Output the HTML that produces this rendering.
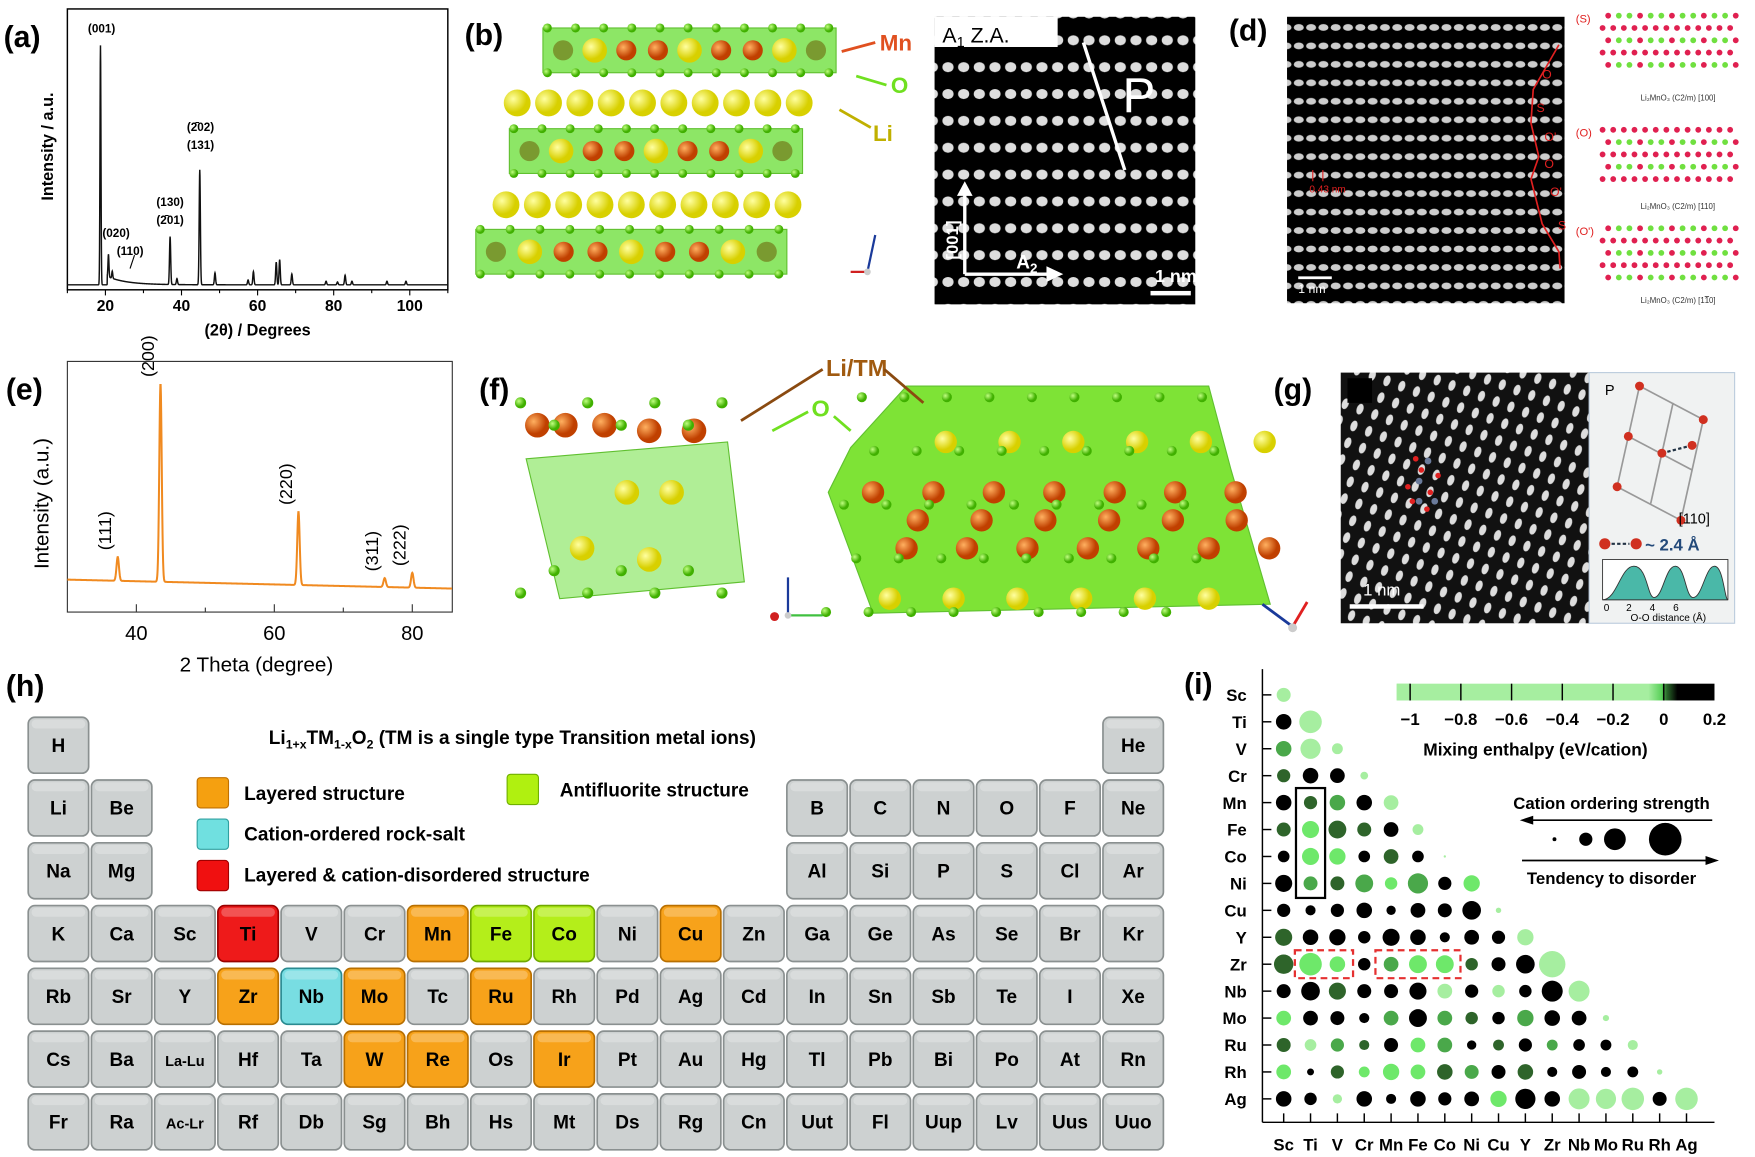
<!DOCTYPE html>
<html><head><meta charset="utf-8"><style>
html,body{margin:0;padding:0;background:#fff}
svg{display:block}
text{font-family:"Liberation Sans",sans-serif}
.b{font-weight:bold}
.pt{font-family:"Liberation Sans Narrow","Liberation Sans",sans-serif;font-weight:bold;font-stretch:condensed}
</style></head><body>
<svg id="fig" width="1755" height="1157" viewBox="0 0 1568 1034" xmlns="http://www.w3.org/2000/svg">
<defs>
<pattern id="temc" width="14" height="24" patternUnits="userSpaceOnUse"><rect width="14" height="24" fill="#000"/><ellipse cx="7" cy="12" rx="5" ry="4.5" fill="#ddd"/></pattern>
<pattern id="temd" width="11" height="16.5" patternUnits="userSpaceOnUse"><rect width="11" height="16.5" fill="#000"/><ellipse cx="5.5" cy="8" rx="4.5" ry="3" fill="#ccc"/></pattern>
<pattern id="temg" width="14" height="16" patternUnits="userSpaceOnUse" patternTransform="rotate(20)"><rect width="14" height="16" fill="#111"/><ellipse cx="7" cy="8" rx="3" ry="5" fill="#ddd"/></pattern>
<radialGradient id="liB" cx="35%" cy="35%"><stop offset="0" stop-color="#ffffa0"/><stop offset="1" stop-color="#d8d000"/></radialGradient>
<radialGradient id="mnB" cx="35%" cy="35%"><stop offset="0" stop-color="#ffb060"/><stop offset="1" stop-color="#c04000"/></radialGradient>
<radialGradient id="oB" cx="35%" cy="35%"><stop offset="0" stop-color="#c0ff80"/><stop offset="1" stop-color="#40b000"/></radialGradient>
</defs>

<g class="b" font-size="27">
<text x="3" y="42">(a)</text>
<text x="415" y="40">(b)</text>
<text x="843" y="40">(c)</text>
<text x="1098" y="36">(d)</text>
<text x="5" y="357">(e)</text>
<text x="428" y="357">(f)</text>
<text x="1138" y="357">(g)</text>
<text x="5" y="622">(h)</text>
<text x="1058" y="620">(i)</text>
</g>

<g id="pa"></g>
<g id="pe"></g>

<g id="pb"></g>
<g class="b" font-size="20">
<text x="786" y="45" fill="#e05020">Mn</text><line x1="782" y1="38" x2="752" y2="46" stroke="#e05020" stroke-width="2.5"/>
<text x="796" y="83" fill="#70e020">O</text><line x1="792" y1="76" x2="765" y2="68" stroke="#70e020" stroke-width="2.5"/>
<text x="780" y="126" fill="#c0b000">Li</text><line x1="778" y1="114" x2="750" y2="98" stroke="#c0b000" stroke-width="2.5"/>
<line x1="775" y1="243" x2="782" y2="210" stroke="#1a3a9a" stroke-width="2"/><line x1="775" y1="243" x2="760" y2="243" stroke="#d02020" stroke-width="2"/><circle cx="775" cy="243" r="3" fill="#ccc"/>
</g>

<g>
<rect x="835" y="15" width="233" height="257" fill="url(#temc)"/>
<rect x="835" y="15" width="110" height="27" fill="#fff"/>
<text x="842" y="38" font-size="19">A<tspan font-size="13" dy="4">1</tspan><tspan dy="-4"> Z.A.</tspan></text>
<line x1="968" y1="38" x2="1005" y2="152" stroke="#fff" stroke-width="3"/>
<text x="1003" y="100" font-size="44" fill="#fff">P</text>
<line x1="862" y1="245" x2="862" y2="172" stroke="#fff" stroke-width="3"/><polygon points="855,175 869,175 862,162" fill="#fff"/>
<line x1="862" y1="245" x2="938" y2="245" stroke="#fff" stroke-width="3"/><polygon points="935,238 935,252 950,245" fill="#fff"/>
<text x="856" y="232" font-size="15" fill="#fff" class="b" transform="rotate(-90 856 232)">[001]</text>
<text x="908" y="240" font-size="17" fill="#fff" class="b">A<tspan font-size="12" dy="4">2</tspan></text>
<text x="1032" y="252" font-size="16" fill="#fff" class="b">1 nm</text><rect x="1028" y="260" width="36" height="4" fill="#fff"/>
</g>

<g>
<rect x="1150" y="15" width="248" height="256" fill="url(#temd)"/>
<polyline points="1393,40 1370,80 1368,110 1375,140 1368,160 1378,200 1393,225 1394,240" fill="none" stroke="#e02020" stroke-width="1.5"/>
<g fill="#e02020" font-size="11"><text x="1378" y="70">O</text><text x="1373" y="100">S</text><text x="1380" y="126">O'</text><text x="1380" y="150">O</text><text x="1385" y="175">O'</text><text x="1392" y="205">S</text><text x="1170" y="172" font-size="9">0.43 nm</text></g>
<line x1="1173" y1="152" x2="1173" y2="162" stroke="#e02020"/><line x1="1182" y1="152" x2="1182" y2="162" stroke="#e02020"/>
<rect x="1160" y="247" width="30" height="2.5" fill="#fff"/><text x="1160" y="262" font-size="11" fill="#fff">1 nm</text>
</g>
<g id="pd2">
<g fill="#e02020" font-size="10"><text x="1408" y="20">(S)</text><text x="1408" y="122">(O)</text><text x="1408" y="210">(O')</text></g>
<g font-size="7" fill="#333"><text x="1466" y="90">Li₂MnO₃ (C2/m) [100]</text><text x="1466" y="187">Li₂MnO₃ (C2/m) [110]</text><text x="1466" y="271">Li₂MnO₃ (C2/m) [1<tspan text-decoration="overline">1</tspan>0]</text></g>
</g>

<g id="pf"></g>
<g>
<text x="738" y="336" font-size="21" class="b" fill="#a05a10">Li/TM</text>
<line x1="735" y1="330" x2="662" y2="376" stroke="#8a4a10" stroke-width="2.5"/><line x1="790" y1="330" x2="825" y2="360" stroke="#8a4a10" stroke-width="2.5"/>
<text x="725" y="372" font-size="21" class="b" fill="#70e020">O</text>
<line x1="722" y1="368" x2="690" y2="385" stroke="#70e020" stroke-width="2.5"/><line x1="745" y1="372" x2="760" y2="385" stroke="#70e020" stroke-width="2.5"/>
<line x1="704" y1="550" x2="704" y2="516" stroke="#1a3a9a" stroke-width="2"/><line x1="704" y1="550" x2="735" y2="550" stroke="#40c040" stroke-width="2"/><circle cx="704" cy="550" r="3" fill="#ccc"/><circle cx="692" cy="551" r="4" fill="#d02020"/>
<line x1="1155" y1="560" x2="1128" y2="540" stroke="#1a3a9a" stroke-width="2.5"/><line x1="1155" y1="560" x2="1168" y2="538" stroke="#e02020" stroke-width="2.5"/><circle cx="1155" cy="561" r="4" fill="#ccc"/>
</g>

<g>
<rect x="1198" y="333" width="222" height="224" fill="url(#temg)"/>
<rect x="1204" y="338" width="22" height="22" fill="#000"/>
<g fill="#e02020"><circle cx="1258" cy="435" r="2.5"/><circle cx="1262" cy="448" r="2.5"/><circle cx="1270" cy="420" r="2.5"/><circle cx="1265" cy="410" r="2.5"/><circle cx="1278" cy="440" r="2.5"/><circle cx="1275" cy="455" r="2.5"/><circle cx="1285" cy="425" r="2.5"/></g>
<g fill="#6a7a9a"><circle cx="1268" cy="430" r="3"/><circle cx="1276" cy="412" r="3"/><circle cx="1282" cy="448" r="3"/><circle cx="1268" cy="448" r="3"/></g>
<rect x="1206" y="540" width="66" height="4" fill="#fff"/><text x="1218" y="532" font-size="15" fill="#fff">1 nm</text>
<rect x="1420" y="333" width="130" height="224" fill="#f0f2f2" stroke="#bcd" />
<text x="1434" y="353" font-size="13">P</text>
<g stroke="#999" stroke-width="1.5" fill="none"><polyline points="1465,345 1445,435 "/><polyline points="1495,360 1475,450"/><polyline points="1522,375 1502,465"/><line x1="1465" y1="345" x2="1522" y2="375"/><line x1="1455" y1="390" x2="1512" y2="420"/><line x1="1445" y1="435" x2="1502" y2="465"/></g>
<line x1="1485" y1="405" x2="1512" y2="398" stroke="#234" stroke-width="2" stroke-dasharray="3,2"/>
<g fill="#d03020"><circle cx="1465" cy="345" r="4"/><circle cx="1455" cy="390" r="4"/><circle cx="1445" cy="435" r="4"/><circle cx="1485" cy="405" r="4"/><circle cx="1512" cy="398" r="4"/><circle cx="1502" cy="465" r="4"/><circle cx="1522" cy="375" r="4"/></g>
<text x="1500" y="468" font-size="13">[110]</text>
<circle cx="1434" cy="486" r="5" fill="#d03020"/><circle cx="1462" cy="486" r="5" fill="#d03020"/><line x1="1440" y1="486" x2="1456" y2="486" stroke="#234" stroke-width="2" stroke-dasharray="3,2"/>
<text x="1470" y="492" font-size="15" class="b" fill="#234a7a">~ 2.4 Å</text>
<rect x="1432" y="500" width="112" height="36" fill="#fff" stroke="#333" stroke-width="0.8"/>
<path d="M1432,536 C1445,536 1448,506 1460,506 C1472,506 1472,534 1478,534 C1486,534 1488,506 1497,506 C1506,506 1506,534 1513,534 C1521,534 1524,506 1532,506 C1540,506 1541,536 1544,536 Z" fill="#4ab8a8" stroke="#333" stroke-width="0.8"/>
<g font-size="9"><text x="1433" y="546">0</text><text x="1453" y="546">2</text><text x="1474" y="546">4</text><text x="1495" y="546">6</text><text x="1457" y="555">O-O distance (Å)</text></g>
</g>

<g id="ph"></g>
<g class="pt">
<text x="240" y="665" font-size="17">Li<tspan font-size="11" dy="4">1+x</tspan><tspan dy="-4">TM</tspan><tspan font-size="11" dy="4">1-x</tspan><tspan dy="-4">O</tspan><tspan font-size="11" dy="4">2</tspan><tspan dy="-4"> (TM is a single type Transition metal ions)</tspan></text>
<rect x="176" y="695" width="28" height="27" rx="3" fill="#f5a010" stroke="#c07000"/><text x="218" y="715" font-size="17">Layered structure</text>
<rect x="176" y="732" width="28" height="27" rx="3" fill="#70e0e0" stroke="#30a0a0"/><text x="218" y="751" font-size="17">Cation-ordered rock-salt</text>
<rect x="176" y="769" width="28" height="27" rx="3" fill="#f01010" stroke="#a00000"/><text x="218" y="788" font-size="17">Layered &amp; cation-disordered structure</text>
<rect x="453" y="692" width="28" height="27" rx="3" fill="#b0f010" stroke="#70b000"/><text x="500" y="712" font-size="17">Antifluorite structure</text>
</g>

<g id="pi"></g>
</svg>
<script>
// ---------- (a) XRD data ----------
const aPeakPos = [18.7, 20.8, 21.8, 37.0, 38.8, 44.8, 48.8, 57.5, 58.9, 64.9, 65.8, 69.0, 78.0, 81.0, 83.0, 84.8, 94.0, 99.0];
const aPeakInt = [100, 9.5, 3, 20, 2.5, 48, 5, 2, 5.5, 9.5, 10.5, 4.5, 1.5, 1.2, 4, 1.5, 1.5, 1.5];
const aTicks = [20, 40, 60, 80, 100];
const aLabels = [["(001)",19,29],["(020)",22.8,212],["(110)",26.5,228],["(130)",37,184],["(2̄01)",37,200],["(2̄02)",45,117],["(131)",45,133]];
// ---------- (e) XRD data ----------
const ePeakPos = [37.3, 43.5, 63.5, 76.0, 80.0];
const ePeakInt = [12, 100, 37, 4.5, 7.5];
const eTicks = [40, 60, 80];
const eLabels = ["(111)", "(200)", "(220)", "(311)", "(222)"];
// ---------- (i) dot matrix ----------
const iElems = ["Sc","Ti","V","Cr","Mn","Fe","Co","Ni","Cu","Y","Zr","Nb","Mo","Ru","Rh","Ag"];
const iEnth = [
"L","KL","MLL","DKKL","KDMKL","DBDDKL","KBBKDKL","KMDMBMKB","KKKKKKKKL","DKKKKKKKKL",
"DBBKMBBDKKL","KKDKKKLKLKKL","BKKKMKMDKMKKL","DLMDKBMKDKMKKL","BKDBBBDMKDKKKKL","KKLKKKKKBKKLLLKL"];
const iStrength = [
[18],[20,29],[20,26,14],[17,20,19,10],[20,17,20,20,19],[18,22,23,18,19,14],[15,22,21,15,19,15,3],
[22,18,18,23,16,26,17,21],[17,13,17,20,12,19,18,24,7],[22,20,21,16,22,20,13,19,17,21],
[25,29,20,16,19,23,23,16,18,24,34],[18,24,22,18,18,22,19,17,16,16,27,27],
[19,19,18,13,19,23,19,16,16,21,20,19,8],[18,15,17,13,18,19,19,12,14,17,14,15,14,13],
[19,9,17,14,21,19,20,18,18,20,13,18,13,14,7],[20,16,12,20,13,20,17,19,21,26,20,27,26,29,18,29]];
const iCodeVal = {L:-0.3,B:0.01,M:0.02,D:0.04,K:0.12};
const cbTicks = [-1,-0.8,-0.6,-0.4,-0.2,0,0.2];
const cbTickLabels = ["−1","−0.8","−0.6","−0.4","−0.2","0","0.2"];
const legendStrength = [5,17,28,42];
// ---------- (h) periodic table ----------
const ptRows = [
["H","","","","","","","","","","","","","","","","","He"],
["Li","Be","","","","","","","","","","","B","C","N","O","F","Ne"],
["Na","Mg","","","","","","","","","","","Al","Si","P","S","Cl","Ar"],
["K","Ca","Sc","Ti","V","Cr","Mn","Fe","Co","Ni","Cu","Zn","Ga","Ge","As","Se","Br","Kr"],
["Rb","Sr","Y","Zr","Nb","Mo","Tc","Ru","Rh","Pd","Ag","Cd","In","Sn","Sb","Te","I","Xe"],
["Cs","Ba","La-Lu","Hf","Ta","W","Re","Os","Ir","Pt","Au","Hg","Tl","Pb","Bi","Po","At","Rn"],
["Fr","Ra","Ac-Lr","Rf","Db","Sg","Bh","Hs","Mt","Ds","Rg","Cn","Uut","Fl","Uup","Lv","Uus","Uuo"]];
const ptLayered = ["Mn","Cu","Zr","Mo","Ru","W","Re","Ir"];
const ptOrdered = ["Nb"];
const ptDisordered = ["Ti"];
const ptAntifluorite = ["Fe","Co"];

const NS="http://www.w3.org/2000/svg";
function mk(tag, attrs, parent){const e=document.createElementNS(NS,tag);for(const k in attrs)e.setAttribute(k,attrs[k]);parent.appendChild(e);return e;}

(function(){
 const g=document.getElementById('pa');
 const X0=60,X1=400,Y0=8,Y1=259, xmin=10,xmax=110;
 const sx=v=>X0+(v-xmin)/(xmax-xmin)*(X1-X0);
 const base=255.6, k=2.14;
 const sy=v=>base-v*k;
 let r=mk('rect',{x:X0,y:Y0,width:X1-X0,height:Y1-Y0,fill:'none',stroke:'#000','stroke-width':1.3},g);
 
 
 let d='';
 for(let x=xmin;x<=xmax;x+=0.05){
  let I=0.5;
  if(x>20.5) I+=3.5*Math.exp(-(x-20.5)/5);
  for(let i=0;i<aPeakPos.length;i++){const w=aPeakPos[i]<25?0.18:0.22;I+=aPeakInt[i]*Math.exp(-Math.pow((x-aPeakPos[i])/w,2));}
  d+=(d?'L':'M')+sx(x).toFixed(2)+','+sy(I).toFixed(2);
 }
 const p=mk('path',{d:d,fill:'none',stroke:'#111','stroke-width':1.3},g);
 
 
 for(let v=10;v<=110;v+=10){mk('line',{x1:sx(v),x2:sx(v),y1:Y1,y2:Y1+(v%20==0?5:3),stroke:'#000'},g);}
 aTicks.forEach(v=>{const t=mk('text',{x:sx(v),y:Y1+19,'text-anchor':'middle','font-size':14,'class':'b'},g);t.textContent=v;
  
  });
 let t=mk('text',{x:230,y:300,'text-anchor':'middle','font-size':14.5,'class':'b'},g);t.textContent='(2θ) / Degrees';
 
 
 t=mk('text',{x:0,y:0,'text-anchor':'middle','font-size':14.5,'class':'b',transform:'translate(47,131) rotate(-90)'},g);t.textContent='Intensity / a.u.';
 
 
 aLabels.forEach(l=>{const tt=mk('text',{x:sx(l[1]),y:l[2],'text-anchor':'middle','font-size':10.5,'class':'b'},g);tt.textContent=l[0];
  
  });
 mk('line',{x1:120,y1:228,x2:116,y2:240,stroke:'#000'},g);
})();

(function(){
 const g=document.getElementById('pe');
 const X0=60,X1=404,Y0=323,Y1=547,xmin=30,xmax=85.8;
 const sx=v=>X0+(v-xmin)/(xmax-xmin)*(X1-X0);
 const baseAt=x=>518+(x-xmin)/(xmax-xmin)*8;
 const k=1.77;
 let r=mk('rect',{x:X0,y:Y0,width:X1-X0,height:Y1-Y0,fill:'none',stroke:'#333','stroke-width':1},g);
 
 
 let d='';
 for(let x=xmin;x<=xmax;x+=0.04){
  let I=0;
  for(let i=0;i<ePeakPos.length;i++){I+=ePeakInt[i]*Math.exp(-Math.pow((x-ePeakPos[i])/0.25,2));}
  d+=(d?'L':'M')+sx(x).toFixed(2)+','+(baseAt(x)-I*k).toFixed(2);
 }
 const p=mk('path',{d:d,fill:'none',stroke:'#f08a20','stroke-width':1.8},g);
 
 
 for(let v=40;v<=80;v+=10){mk('line',{x1:sx(v),x2:sx(v),y1:Y1,y2:Y1-(v%20==0?7:4),stroke:'#333'},g);}
 eTicks.forEach(v=>{const t=mk('text',{x:sx(v),y:572,'text-anchor':'middle','font-size':18},g);t.textContent=v;
  
  });
 let t=mk('text',{x:229,y:600,'text-anchor':'middle','font-size':18.5},g);t.textContent='2 Theta (degree)';
 
 
 t=mk('text',{x:0,y:0,'text-anchor':'middle','font-size':18.5,transform:'translate(43,450) rotate(-90)'},g);t.textContent='Intensity (a.u.)';
 
 
 ePeakPos.forEach((c,i)=>{const top=baseAt(c)-ePeakInt[i]*k;const tt=mk('text',{x:0,y:0,'text-anchor':'start','font-size':16,transform:`translate(${sx(c)-6},${top-6}) rotate(-90)`},g);tt.textContent=eLabels[i];
  
  });
})();

(function(){
 const g=document.getElementById('pb');
 function slab(x,y,w){
  mk('rect',{x:x,y:y,width:w,height:40,fill:'#70e040','fill-opacity':0.8,stroke:'#60c030'},g);
  const n=10,step=w/(n);
  for(let i=0;i<=n;i++){mk('circle',{cx:x+i*step*0.96+4,cy:y,r:4,fill:'url(#oB)'},g);mk('circle',{cx:x+i*step*0.96+4,cy:y+40,r:4,fill:'url(#oB)'},g);}
  const pat=['g','L','M','M','L','M','M','L','g'];
  pat.forEach((c,i)=>{const cx=x+18+i*(w-36)/8;mk('circle',{cx:cx,cy:y+20,r:c=='M'?9:(c=='L'?11:9),fill:c=='M'?'url(#mnB)':(c=='L'?'url(#liB)':'#7a9a30')},g);});
 }
 function lirow(x,y,n){for(let i=0;i<n;i++)mk('circle',{cx:x+i*28,cy:y,r:12,fill:'url(#liB)'},g);}
 slab(485,25,262);lirow(462,92,10);slab(455,115,262);lirow(452,183,10);slab(425,205,278);
})();
(function(){
 const g=document.getElementById('pd2');
 const rows=[14,25,36,47,58, 116,127,138,149,160, 204,215,226,237,248];
 rows.forEach((y,ri)=>{const alt=ri%2==0;for(let i=0;i<13;i++){const c=alt?(i%3==0?'#e02050':'#70e040'):'#e02050';mk('circle',{cx:1432+(ri%2?0:5)+i*9.5,cy:y,r:2.6,fill:c},g);}});
})();
(function(){
 const g=document.getElementById('pf');
 mk('polygon',{points:'470,410 650,395 665,520 500,535',fill:'#70e040','fill-opacity':0.55,stroke:'#60c030'},g);
 mk('polygon',{points:'810,345 1080,345 1100,420 1135,540 780,548 740,440 760,400',fill:'#70e020','fill-opacity':0.9,stroke:'#60c030'},g);
 for(let r=0;r<3;r++)for(let c=0;c<6;c++){mk('circle',{cx:845+c*57-r*25,cy:395+r*70,r:10,fill:r==1?'url(#mnB)':'url(#liB)'},g);}
 for(let r=0;r<2;r++)for(let c=0;c<7;c++){mk('circle',{cx:780+c*54-r*10+(r?40:0),cy:440+r*50,r:10,fill:'url(#mnB)'},g);}
 for(let r=0;r<5;r++)for(let c=0;c<9;c++){mk('circle',{cx:770+c*38-r*8+ (r%2)*19,cy:355+r*48,r:4.5,fill:'url(#oB)'},g);}
 [[480,380],[505,380],[540,380],[580,385],[620,385],[560,440],[600,440],[520,490],[580,500]].forEach(p=>mk('circle',{cx:p[0],cy:p[1],r:11,fill:p[1]<400?'url(#mnB)':'url(#liB)'},g));
 for(let i=0;i<14;i++){mk('circle',{cx:465+(i%7)*30,cy:360+Math.floor(i/7)*150+ (i%2)*20,r:5,fill:'url(#oB)'},g);}
})();

(function(){
 const g=document.getElementById('ph');
 ptRows.forEach((row,ri)=>row.forEach((el,ci)=>{
  if(!el)return;
  const cx=52+ci*56.5, cy=666+ri*56.1;
  let fill='#cdd1d1', stroke='#8a9090';
  if(ptLayered.includes(el)){fill='#f7a21a';stroke='#b86f00';}
  else if(ptOrdered.includes(el)){fill='#78dde2';stroke='#2a8a90';}
  else if(ptDisordered.includes(el)){fill='#ee1a1a';stroke='#9a0000';}
  else if(ptAntifluorite.includes(el)){fill='#b4ee1a';stroke='#70a800';}
  const r=mk('rect',{x:cx-27,y:cy-25,width:54,height:50,rx:6,fill:fill,stroke:stroke,'stroke-width':1.5},g);
  
  
  mk('rect',{x:cx-24,y:cy-23,width:48,height:8,rx:4,fill:'#fff','fill-opacity':0.25},g);
  const t=mk('text',{x:cx,y:cy+6,'text-anchor':'middle','font-size':el.length>3?13:17,'class':'pt'},g);
  t.textContent=el;
  
  
 }));
})();

(function(){
 const g=document.getElementById('pi');
 const rowY=i=>621+i*24.07, colX=j=>1147+j*24;
 const AX=1128, AY=1003;
 function color(v){
  if(v<=0) return '#a6eea0';
  const stops=[[0,[166,238,160]],[0.01,[110,232,106]],[0.02,[74,168,74]],[0.04,[46,100,42]],[0.08,[0,0,0]]];
  if(v>=0.08) return '#000';
  for(let i=0;i<stops.length-1;i++){if(v<=stops[i+1][0]){const t=(v-stops[i][0])/(stops[i+1][0]-stops[i][0]);const c=stops[i][1].map((a,k)=>Math.round(a+(stops[i+1][1][k]-a)*t));return `rgb(${c})`;}}
 }
 const rad=s=>s/2.88;
 mk('line',{x1:AX,y1:598,x2:AX,y2:AY,stroke:'#000','stroke-width':1.3},g);
 mk('line',{x1:AX,y1:AY,x2:1532,y2:AY,stroke:'#000','stroke-width':1.3},g);
 iElems.forEach((el,i)=>{
  mk('line',{x1:AX,x2:AX+8,y1:rowY(i),y2:rowY(i),stroke:'#000','stroke-width':1.3},g);
  let t=mk('text',{x:AX-14,y:rowY(i)+5.5,'text-anchor':'end','font-size':15,'class':'b'},g);t.textContent=el;
  
  
  mk('line',{x1:colX(i),x2:colX(i),y1:AY,y2:AY-8,stroke:'#000','stroke-width':1.3},g);
  t=mk('text',{x:colX(i),y:1028,'text-anchor':'middle','font-size':15,'class':'b'},g);t.textContent=el;
  
  
 });
 iStrength.forEach((row,i)=>row.forEach((s,j)=>{
  const v=iCodeVal[iEnth[i][j]];
  const c=mk('circle',{cx:colX(j),cy:rowY(i),r:rad(s),fill:color(v)},g);
  
  
 }));
 mk('rect',{x:colX(1)-13,y:rowY(4)-13,width:26,height:rowY(7)-rowY(4)+26,fill:'none',stroke:'#000','stroke-width':2},g);
 mk('rect',{x:colX(1)-14,y:rowY(10)-12.5,width:colX(2)-colX(1)+28,height:25,fill:'none',stroke:'#e53030','stroke-width':2,'stroke-dasharray':'6,4'},g);
 mk('rect',{x:colX(4)-14,y:rowY(10)-12.5,width:colX(6)-colX(4)+28,height:25,fill:'none',stroke:'#e53030','stroke-width':2,'stroke-dasharray':'6,4'},g);
 const CB0=1260, CB1=1532, vmin=-1, vmax=0.2;
 const cx=v=>CB0+(v-vmin)/(vmax-vmin)*(CB1-CB0);
 const lg=mk('linearGradient',{id:'cbg',x1:0,x2:1,y1:0,y2:0},g);
 [[vmin,'#a6eea0'],[-0.05,'#a6eea0'],[0,'#5ad05a'],[0.02,'#2a6a2a'],[0.06,'#000'],[vmax,'#000']].forEach(s=>mk('stop',{offset:(s[0]-vmin)/(vmax-vmin),'stop-color':s[1]},lg));
 const bar=mk('rect',{x:CB0-12,y:611,width:CB1-CB0+12,height:15,fill:'url(#cbg)'},g);
 
 
 mk('rect',{x:CB0-12,y:611,width:12,height:15,fill:'#a6eea0'},g);
 cbTicks.forEach((v,i)=>{
  if(i<cbTicks.length-1) mk('line',{x1:cx(v),x2:cx(v),y1:611,y2:626,stroke:'#000','stroke-width':1.3},g);
  const t=mk('text',{x:cx(v),y:648,'text-anchor':'middle','font-size':15,'class':'b'},g);t.textContent=cbTickLabels[i];
  
  
 });
 let t=mk('text',{x:1372,y:675,'text-anchor':'middle','font-size':15.5,'class':'b'},g);t.textContent='Mixing enthalpy (eV/cation)';
 
 
 t=mk('text',{x:1440,y:723,'text-anchor':'middle','font-size':15,'class':'b'},g);t.textContent='Cation ordering strength';
 
 
 mk('line',{x1:1366,y1:733,x2:1530,y2:733,stroke:'#000','stroke-width':1.5},g);
 mk('polygon',{points:'1358,733 1370,729 1370,737',fill:'#000'},g);
 [1389,1417,1443,1488].forEach((x,i)=>{const c=mk('circle',{cx:x,cy:750,r:rad(legendStrength[i]),fill:'#000'},g);
  
  });
 mk('line',{x1:1360,y1:769,x2:1526,y2:769,stroke:'#000','stroke-width':1.5},g);
 mk('polygon',{points:'1536,769 1524,765 1524,773',fill:'#000'},g);
 t=mk('text',{x:1440,y:790,'text-anchor':'middle','font-size':15,'class':'b'},g);t.textContent='Tendency to disorder';
 
 
})();
</script>
</body></html>
